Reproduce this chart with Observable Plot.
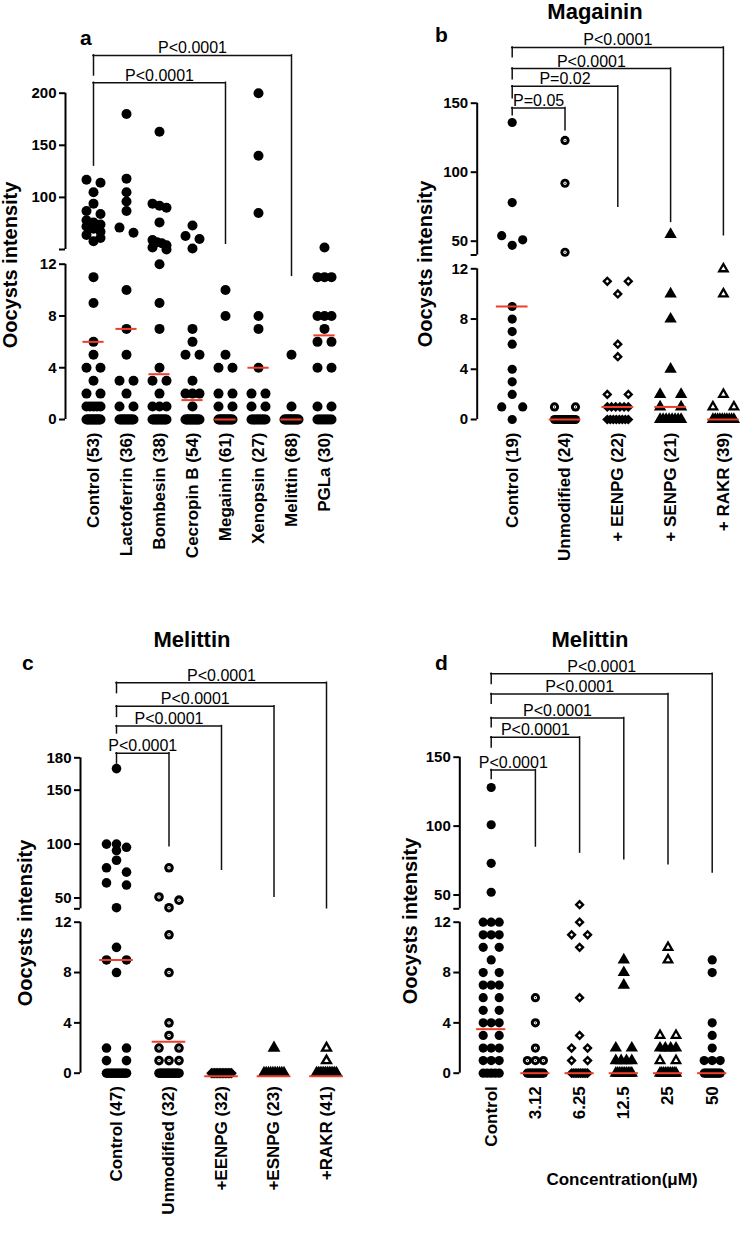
<!DOCTYPE html>
<html><head><meta charset="utf-8">
<script src="https://cdn.jsdelivr.net/npm/d3@7"></script>
<script src="https://cdn.jsdelivr.net/npm/@observablehq/plot@0.6"></script>
<style>
body{margin:0;background:#fff;}
#root{position:relative;width:741px;height:1240px;overflow:hidden;background:#fff;font-family:"Liberation Sans",Arial,sans-serif;}
.panel{position:absolute;}
.panel g[aria-label="x-axis tick label"] text{font-weight:bold;}
#overlay{position:absolute;left:0;top:0;pointer-events:none;}
</style></head><body><div id="root"></div>
<script>
// ---------------- DATA ----------------
// Panel a
const catsA = ["Control (53)","Lactoferrin (36)","Bombesin (38)","Cecropin B (54)","Megainin (61)","Xenopsin (27)","Melittin (68)","PGLa (30)"];
const a_control = [117,114,105,94,87,84,78,76,74,72,70,67,64,61,58,11,9,6,5,4,4,3,2,2,1,1,1,1,1,0,0,0,0,0,0,0,0,0,0,0,0,0,0];
const a_lactoferrin = [180,118,105,96,87,71,66,10,7,5,3,3,2,1,1,0,0,0,0,0,0,0,0,0,0,0,0];
const a_bombesin = [163,94,92,90,76,59,57,56,54,52,50,12,9,7,4,3,3,2,1,1,1,0,0,0,0,0,0,0,0,0,0,0,0];
const a_cecropin = [73,63,60,51,7,6,5,5,3,2,2,2,1,0,0,0,0,0,0,0,0,0,0,0,0,0,0];
const a_megainin = [10,8,5,4,4,2,2,1,1,0,0,0,0,0,0,0,0,0,0,0,0,0,0];
const a_xenopsin = [200,140,85,8,7,4,2,2,1,1,0,0,0,0,0,0,0,0,0,0];
const a_melittin = [5,1,0,0,0,0,0,0,0,0,0,0,0,0,0,0];
const a_pgla = [52,11,11,11,8,8,8,7,6,6,4,4,1,1,0,0,0,0,0,0,0,0];
const mediansA = [6,7,3.5,1.5,0,4,0,6.5];
const ticksA = [0,4,8,12,50,100,150,200];
const bracketsA = [
  {from:0,to:6,label:"P<0.0001",level:236.3,dropFrom:217,dropTo:11.1},
  {from:0,to:4,label:"P<0.0001",level:210,dropFrom:130.5,dropTo:55.5}
];

// Panel b (Magainin)
const catsB = ["Control (19)","Unmodified (24)","+ EENPG (22)","+ SENPG (21)","+ RAKR (39)"];
const b_control = [136,78,54,51,47,9,8,7,6,4,3,2,1,1,0];
const b_unmodified = [123,92,42,1,1,0,0,0,0,0,0,0,0,0,0];
const b_eenpg = [11,11,10,6,5,2,2,1,1,1,1,1,1,0,0,0,0,0,0,0,0];
const b_senpg = [55,10,8,4,2,2,1,1,0,0,0,0,0,0,0,0];
const b_rakr = [12,10,2,1,1,0,0,0,0,0,0,0,0,0,0];
const mediansB = [9,0,1,1,0];
const ticksB = [0,4,8,12,40,50,100,150];
const bracketsB = [
  {from:0,to:4,label:"P<0.0001",level:190.4,dropFrom:183.3,dropTo:54.3},
  {from:0,to:3,label:"P<0.0001",level:175.1,dropFrom:167.4,dropTo:64},
  {from:0,to:2,label:"P=0.02",level:162.3,dropFrom:153.6,dropTo:74.9},
  {from:0,to:1,label:"P=0.05",level:146.6,dropFrom:141.3,dropTo:130.4}
];

// Panel c (Melittin)
const catsC = ["Control (47)","Unmodified (32)","+EENPG (32)","+ESNPG (23)","+RAKR (41)"];
const c_control = [170,100,100,97,94,85,78,74,64,62,41,10,9,9,8,2,2,1,1,0,0,0,0,0,0,0,0,0,0,0,0];
const c_unmodified = [78,51,48,41,11,8,4,3,2,2,1,1,1,0,0,0,0,0,0,0,0,0,0,0,0,0,0];
const c_eenpg = [0,0,0,0,0,0,0,0,0,0,0,0,0,0];
const c_esnpg = [2,0,0,0,0,0,0,0,0,0,0];
const c_rakr = [2,1,0,0,0,0,0,0,0,0,0,0,0,0];
const mediansC = [9,2.5,-0.25,-0.25,-0.25];
const ticksC = [0,4,8,12,40,50,100,150,180];
const bracketsC = [
  {from:0,to:4,label:"P<0.0001",level:249.6,dropFrom:240,dropTo:40.5},
  {from:0,to:3,label:"P<0.0001",level:227.8,dropFrom:217.9,dropTo:51.2},
  {from:0,to:2,label:"P<0.0001",level:209.4,dropFrom:202.6,dropTo:76.2},
  {from:0,to:1,label:"P<0.0001",level:184.2,dropFrom:174.6,dropTo:98}
];

// Panel d (Melittin, concentration)
const catsD = ["Control","3.12","6.25","12.5","25","50"];
const d_control = [128,101,73,52,12,12,12,11,11,11,10,10,9,8,8,7,7,7,6,6,5,5,4,4,4,3,3,2,2,2,1,1,1,0,0,0,0,0];
const d_312 = [6,4,2,1,1,1,0,0,0,0,0,0,0,0,0,0];
const d_625 = [43,12,11,11,10,6,3,2,2,1,1,0,0,0,0,0,0,0,0,0,0];
const d_125 = [9,8,7,2,2,1,1,1,1,0,0,0,0,0,0,0,0,0,0];
const d_25 = [10,9,3,3,2,2,2,2,1,1,0,0,0,0,0,0,0,0,0,0];
const d_50 = [9,8,4,3,2,1,1,1,0,0,0,0,0,0,0,0,0,0];
const mediansD = [3.5,0,0,0,0,0];
const ticksD = [0,4,8,12,40,50,100,150];
const bracketsD = [
  {from:0,to:5,label:"P<0.0001",level:210.5,dropFrom:203.2,dropTo:66.3},
  {from:0,to:4,label:"P<0.0001",level:195.9,dropFrom:188.7,dropTo:72.4},
  {from:0,to:3,label:"P<0.0001",level:178.5,dropFrom:171.7,dropTo:76},
  {from:0,to:2,label:"P<0.0001",level:164.4,dropFrom:157.1,dropTo:80.8},
  {from:0,to:1,label:"P<0.0001",level:140.7,dropFrom:134.2,dropTo:85.2}
];

// ---------------- LAYOUT / STYLE ----------------
const FONT = '"Liberation Sans", Arial, sans-serif';
const RED = "#ef3e2a";
const panels = [
  {left:0, top:0, w:370, h:620, axisPx:65, idx0Px:93, step:33, rightPx:352,
   anchors:[[0,419],[12,263.7],[50,249],[200,92.7]], ticks:ticksA, hide:[50], segs:[[0,12],[50,200]],
   cats:catsA, groups:[a_control,a_lactoferrin,a_bombesin,a_cecropin,a_megainin,a_xenopsin,a_melittin,a_pgla],
   kinds:["dot","dot","dot","dot","dot","dot","dot","dot"], medians:mediansA, brackets:bracketsA, r:5, W:14, medHalf:0.32},
  {left:370, top:0, w:371, h:620, axisPx:476.7, idx0Px:511.7, step:52.8, rightPx:740,
   anchors:[[0,419],[12,268.3],[40,254.5],[150,102.7]], ticks:ticksB, hide:[40], segs:[[0,12],[40,150]],
   cats:catsB, groups:[b_control,b_unmodified,b_eenpg,b_senpg,b_rakr],
   kinds:["dot","ring","diamond","tri","otri"], medians:mediansB, brackets:bracketsB, r:4.6, W:21, medHalf:0.3},
  {left:0, top:620, w:370, h:620, axisPx:80, idx0Px:116, step:52.5, rightPx:365,
   anchors:[[0,1072.7],[12,921.7],[40,908.3],[180,757.3]], ticks:ticksC, hide:[40], segs:[[0,12],[40,180]],
   cats:catsC, groups:[c_control,c_unmodified,c_eenpg,c_esnpg,c_rakr],
   kinds:["dot","ring","diamond","tri","otri"], medians:mediansC, brackets:bracketsC, r:4.8, W:20, medHalf:0.32},
  {left:370, top:620, w:371, h:620, axisPx:459.3, idx0Px:490.7, step:44.2, rightPx:738,
   anchors:[[0,1072.7],[12,921.7],[40,908.3],[150,756.7]], ticks:ticksD, hide:[40], segs:[[0,12],[40,150]],
   cats:catsD, groups:[d_control,d_312,d_625,d_125,d_25,d_50],
   kinds:["dot","ring","diamond","tri","otri","dot"], medians:mediansD, brackets:bracketsD, r:4.6, W:16, medHalf:0.33}
];

const symOf = k => (k==="dot"||k==="ring") ? "circle" : k==="diamond" ? "diamond2" : "triangle";
const innerScale = {ring:0.36, diamond:0.34, otri:0.36};

function buildPanel(cfg){
  const {left, top, w, h, axisPx, idx0Px, step, rightPx, anchors, ticks, hide, segs, cats, groups, kinds, medians, brackets, r, W, medHalf} = cfg;
  // broken (piecewise) value axis: transform applied by Plot's y scale
  const yPix = d3.scaleLinear().domain(anchors.map(a => a[0])).range(anchors.map(a => a[1] - top));
  const y0 = yPix(0);
  const brk = v => y0 - yPix(v);
  const xmin = (axisPx - idx0Px) / step, xmax = (rightPx - idx0Px) / step;
  const d = 2 * r;
  const pts = [];
  groups.forEach((vals, gi) => {
    const arr = vals.map(v => ({v, py: yPix(v)})).sort((p, q) => p.py - q.py);
    const rows = [];
    for (const p of arr) {
      const last = rows[rows.length - 1];
      if (last && p.py - last[0].py < d * 0.55) last.push(p); else rows.push([p]);
    }
    for (const row of rows) {
      const k = row.length;
      const sp = k > 1 ? W / (k - 1) : 0;
      row.forEach((p, j) => {
        pts.push({x: gi + ((j - (k - 1) / 2) * sp) / step, y: p.v, kind: kinds[gi], inner: k === 1 || sp >= d * 0.75});
      });
    }
  });
  const marks = [];
  for (const kd of ["dot","ring","diamond","tri","otri"]) {
    const sub = pts.filter(p => p.kind === kd);
    if (!sub.length) continue;
    marks.push(Plot.dot(sub, {x: "x", y: "y", r: r, symbol: symOf(kd), fill: "#000", stroke: "none"}));
  }
  for (const kd of ["ring","diamond","otri"]) {
    const sub = pts.filter(p => p.kind === kd && p.inner);
    if (!sub.length) continue;
    marks.push(Plot.dot(sub, {x: "x", y: "y", r: r * innerScale[kd], symbol: symOf(kd), fill: "#fff", stroke: "none"}));
    if (kd === "ring") marks.push(Plot.dot(sub, {x: "x", y: "y", r: r * 0.14, fill: "#000", stroke: "none"}));
  }
  const med = medians.map((m, i) => ({i, m}));
  marks.push(Plot.ruleY(med, {y: "m", x1: q => q.i - medHalf, x2: q => q.i + medHalf, stroke: RED, strokeWidth: 2}));
  // significance brackets
  const bs = {stroke: "#111", strokeWidth: 1.5, strokeLinecap: "square"};
  marks.push(Plot.ruleY(brackets, {y: "level", x1: "from", x2: "to", ...bs}));
  marks.push(Plot.ruleX(brackets, {x: "from", y1: "level", y2: "dropFrom", ...bs}));
  marks.push(Plot.ruleX(brackets, {x: "to", y1: "level", y2: "dropTo", ...bs}));
  marks.push(Plot.text(brackets, {x: q => (q.from + q.to) / 2, y: "level", text: "label", lineAnchor: "bottom", dy: -2, fontSize: 16, fill: "#000"}));
  // broken y axis: two line segments, ticks and bold labels
  marks.push(Plot.ruleX(segs, {x: xmin, y1: s => s[0], y2: s => s[1], stroke: "#000", strokeWidth: 2}));
  marks.push(Plot.ruleY(ticks, {y: t => t, x1: xmin - 6 / step, x2: xmin, stroke: "#000", strokeWidth: 2}));
  marks.push(Plot.text(ticks, {x: xmin, y: t => t, text: t => hide.includes(t) ? "" : String(t), textAnchor: "end", dx: -9, fontSize: 15, fontWeight: "bold", fill: "#000"}));
  marks.push(Plot.axisX({ticks: d3.range(cats.length), tickFormat: i => cats[i], tickRotate: -90, tickSize: 0, tickPadding: 8, fontSize: 17, fontWeight: "bold", label: null, anchor: "bottom"}));

  const chart = Plot.plot({
    width: w, height: h,
    marginLeft: axisPx - left, marginRight: left + w - rightPx,
    marginTop: 5, marginBottom: h - (y0 + 5),
    x: {domain: [xmin, xmax], range: [axisPx - left, rightPx - left]},
    y: {transform: brk, domain: [0, 100], range: [y0, y0 - 100], axis: null},
    style: {fontFamily: FONT, color: "#000", background: "transparent", overflow: "visible"},
    marks
  });
  const div = document.createElement("div");
  div.className = "panel";
  div.style.left = left + "px"; div.style.top = top + "px";
  div.appendChild(chart);
  return div;
}

const root = document.getElementById("root");
panels.forEach(p => root.appendChild(buildPanel(p)));

// titles, panel letters, axis titles
const overlayTexts = [
  {t:"a", x:80, y:45, size:21, anchor:"start"},
  {t:"b", x:435, y:42, size:21, anchor:"start"},
  {t:"Magainin", x:595, y:19, size:22, anchor:"middle"},
  {t:"c", x:22, y:670, size:21, anchor:"start"},
  {t:"Melittin", x:192, y:647, size:22, anchor:"middle"},
  {t:"d", x:435, y:670, size:21, anchor:"start"},
  {t:"Melittin", x:590, y:647, size:22, anchor:"middle"},
  {t:"Concentration(\u03BCM)", x:622, y:1185, size:17, anchor:"middle"},
  {t:"Oocysts intensity", x:16.5, y:265, size:20, anchor:"middle", rot:true},
  {t:"Oocysts intensity", x:432, y:264, size:20, anchor:"middle", rot:true},
  {t:"Oocysts intensity", x:32, y:923, size:20, anchor:"middle", rot:true},
  {t:"Oocysts intensity", x:417, y:921, size:20, anchor:"middle", rot:true}
];
const ns = "http://www.w3.org/2000/svg";
const ov = document.createElementNS(ns, "svg");
ov.setAttribute("id", "overlay"); ov.setAttribute("width", 741); ov.setAttribute("height", 1240);
for (const o of overlayTexts) {
  const el = document.createElementNS(ns, "text");
  el.textContent = o.t;
  el.setAttribute("font-family", FONT);
  el.setAttribute("font-weight", "bold");
  el.setAttribute("font-size", o.size);
  el.setAttribute("text-anchor", o.anchor);
  if (o.rot) el.setAttribute("transform", `translate(${o.x},${o.y}) rotate(-90)`);
  else { el.setAttribute("x", o.x); el.setAttribute("y", o.y); }
  ov.appendChild(el);
}
root.appendChild(ov);
</script></body></html>
